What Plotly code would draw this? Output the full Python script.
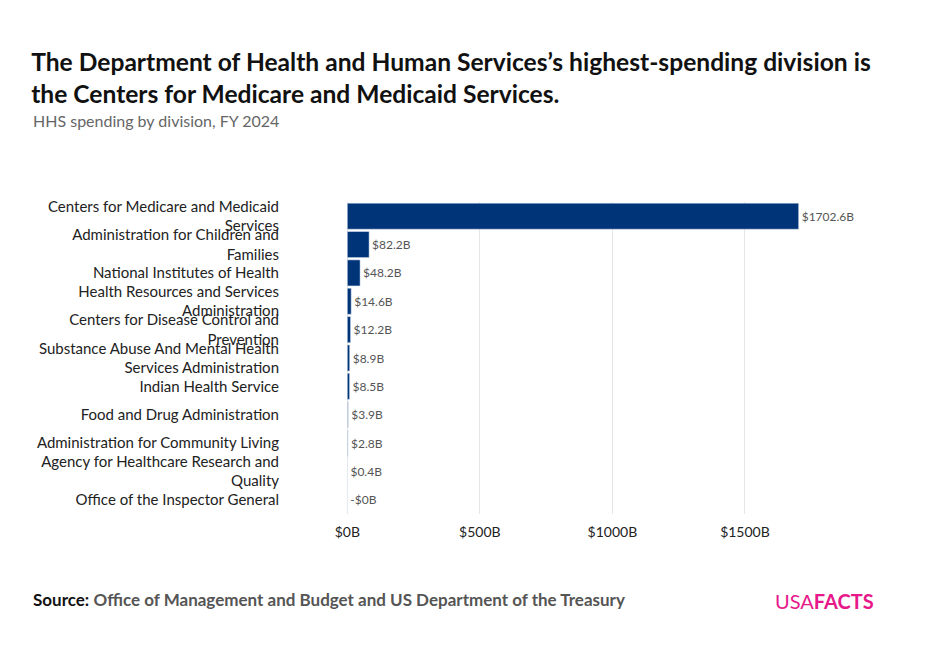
import plotly.graph_objects as go

divisions = ["Centers for Medicare and Medicaid<br>Services", "Administration for Children and<br>Families",
             "National Institutes of Health", "Health Resources and Services<br>Administration",
             "Centers for Disease Control and<br>Prevention", "Substance Abuse And Mental Health<br>Services Administration",
             "Indian Health Service", "Food and Drug Administration", "Administration for Community Living",
             "Agency for Healthcare Research and<br>Quality", "Office of the Inspector General"]
spending = [1702.6, 82.2, 48.2, 14.6, 12.2, 8.9, 8.5, 3.9, 2.8, 0.4, -0.0]
labels = ["$1702.6B", "$82.2B", "$48.2B", "$14.6B", "$12.2B", "$8.9B", "$8.5B", "$3.9B", "$2.8B", "$0.4B", "-$0B"]
colors = ["#003478"] * 7 + ["#8d9cb4", "#8d9cb4", "#c9d0dc", "#c9d0dc"]

fig = go.Figure(go.Bar(
    y=divisions, x=spending, orientation="h", marker_color=colors,
    text=labels, textposition="outside", cliponaxis=False,
    textfont=dict(size=12, color="#555555"), width=0.92,
))
fig.update_layout(
    width=929, height=661, plot_bgcolor="white", paper_bgcolor="white",
    font=dict(family="Lato", color="#222222"),
    margin=dict(l=338, r=86, t=194, b=155, autoexpand=False),
    showlegend=False,
    title=dict(text="<b>The Department of Health and Human Services’s highest-spending division is<br>the Centers for Medicare and Medicaid Services.</b>",
               x=0.025, xanchor="left", y=0.905, yanchor="top", font=dict(size=24.6, color="#111111")),
    xaxis=dict(range=[-5, 1900], tickvals=[0, 500, 1000, 1500],
               ticktext=["$0B", "$500B", "$1000B", "$1500B"], showgrid=True,
               gridcolor="#e6e6e6", zeroline=False, tickfont=dict(size=14), ticklabelstandoff=8),
    yaxis=dict(autorange="reversed", tickfont=dict(size=15), ticklabelstandoff=66, automargin=False),
    annotations=[
        dict(text="HHS spending by division, FY 2024", xref="paper", yref="paper", x=-0.624, y=1.225,
             xanchor="left", yanchor="bottom", showarrow=False, font=dict(size=16, color="#666666")),
        dict(text="<b>Source:</b> <b style='color:#555555'>Office of Management and Budget and US Department of the Treasury</b>",
             xref="paper", yref="paper", x=-0.624, y=-0.235, xanchor="left", yanchor="top",
             showarrow=False, font=dict(size=17, color="#111111")),
        dict(text="USA<b>FACTS</b>", xref="paper", yref="paper", x=1.05, y=-0.235, xanchor="right",
             yanchor="top", showarrow=False, font=dict(size=20, color="#e6188a")),
    ],
)
fig.write_html("out.html")
